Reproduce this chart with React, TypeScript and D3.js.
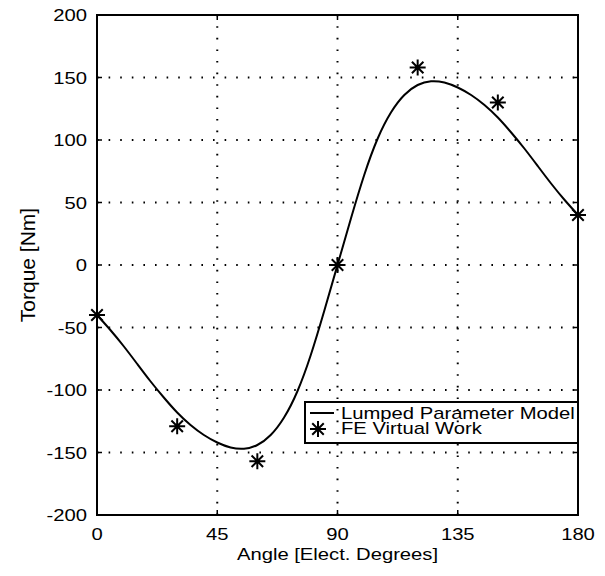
import React from "react";
import * as d3 from "d3";

// Lumped parameter model curve
const curveAngles = [0, 5, 10, 15, 20, 25, 30, 35, 40, 45, 50, 55, 60, 65, 70, 75, 80, 85, 90,
  95, 100, 105, 110, 115, 120, 125, 130, 135, 140, 145, 150, 155, 160, 165, 170, 175, 180];
const curveTorque = [-40, -52, -65, -79, -93, -106, -118, -128, -136, -142, -146, -147, -144, -136, -122, -101, -72, -37, 0,
  37, 72, 101, 122, 136, 144, 147, 146, 142, 136, 128, 118, 106, 93, 79, 65, 52, 40];

// FE virtual work points
const feAngles = [0, 30, 60, 90, 120, 150, 180];
const feTorque = [-40, -129, -157, 0, 158, 130, 40];

const xTicks = [0, 45, 90, 135, 180];
const yTicks = [-200, -150, -100, -50, 0, 50, 100, 150, 200];

const W = 605;
const H = 576;
const font = "'Liberation Sans', Arial, Helvetica, sans-serif";
const SX = 1.19; // the scan is stretched horizontally

function star(cx: number, cy: number, r: number) {
  const d = r * 0.72;
  return `M${cx - r},${cy}L${cx + r},${cy}M${cx},${cy - r}L${cx},${cy + r}` +
    `M${cx - d},${cy - d}L${cx + d},${cy + d}M${cx - d},${cy + d}L${cx + d},${cy - d}`;
}

export default function App() {
  const x = d3.scaleLinear().domain([0, 180]).range([97, 578]);
  const y = d3.scaleLinear().domain([-200, 200]).range([515, 15]);
  const [x0, x1] = x.range();
  const [y0, y1] = y.range();

  const line = d3.line<number>()
    .x((_, i) => x(curveAngles[i]))
    .y(d => y(d))
    .curve(d3.curveNatural);

  const lg = { x: 305, y: 402, w: 273, h: 41 };

  return (
    <svg width={W} height={H} style={{ position: "absolute", left: 0, top: 0, background: "#fff" }}
      fontFamily={font} fontSize={17} fill="#000">
      <rect width={W} height={H} fill="#fff" />
      {/* grid */}
      <g stroke="#000" strokeWidth={2} strokeDasharray="1.6 10" strokeLinecap="butt">
        {xTicks.slice(1, -1).map(t => <line key={t} x1={x(t)} x2={x(t)} y1={y0} y2={y1} />)}
        {yTicks.slice(1, -1).map(t => <line key={t} x1={x0} x2={x1} y1={y(t)} y2={y(t)} />)}
      </g>
      {/* ticks */}
      <g stroke="#000" strokeWidth={1.5}>
        {xTicks.map(t => <g key={t}>
          <line x1={x(t)} x2={x(t)} y1={y0} y2={y0 - 5} />
          <line x1={x(t)} x2={x(t)} y1={y1} y2={y1 + 5} />
        </g>)}
        {yTicks.map(t => <g key={t}>
          <line x1={x0} x2={x0 + 5} y1={y(t)} y2={y(t)} />
          <line x1={x1} x2={x1 - 5} y1={y(t)} y2={y(t)} />
        </g>)}
      </g>
      {/* frame */}
      <rect x={x0} y={y1} width={x1 - x0} height={y0 - y1} fill="none" stroke="#000" strokeWidth={2} />
      {/* tick labels */}
      {xTicks.map(t => (
        <text key={t} transform={`translate(${x(t)},${y0 + 25}) scale(${SX},1)`} textAnchor="middle">{t}</text>
      ))}
      {yTicks.map(t => (
        <text key={t} transform={`translate(${x0 - 10},${y(t) + 6}) scale(${SX},1)`} textAnchor="end">{t}</text>
      ))}
      {/* axis labels */}
      <text transform={`translate(${(x0 + x1) / 2},560) scale(${SX},1)`} textAnchor="middle">Angle [Elect. Degrees]</text>
      <text transform={`translate(35,${(y0 + y1) / 2}) rotate(-90)`} textAnchor="middle" fontSize={21}>Torque [Nm]</text>
      {/* model curve */}
      <path d={line(curveTorque) || ""} fill="none" stroke="#000" strokeWidth={2} />
      {/* FE points */}
      <g stroke="#000" strokeWidth={2} fill="none">
        {feAngles.map((a, i) => <path key={a} d={star(x(a), y(feTorque[i]), 8)} />)}
      </g>
      {/* legend */}
      <rect x={lg.x} y={lg.y} width={lg.w} height={lg.h} fill="none" stroke="#000" strokeWidth={2} />
      <line x1={lg.x + 5} x2={lg.x + 29} y1={lg.y + 11} y2={lg.y + 11} stroke="#000" strokeWidth={2} />
      <path d={star(lg.x + 13, lg.y + 27, 8)} stroke="#000" strokeWidth={2} fill="none" />
      <text transform={`translate(${lg.x + 36},${lg.y + 17}) scale(${SX},1)`}>Lumped Parameter Model</text>
      <text transform={`translate(${lg.x + 36},${lg.y + 32}) scale(${SX},1)`}>FE Virtual Work</text>
    </svg>
  );
}
